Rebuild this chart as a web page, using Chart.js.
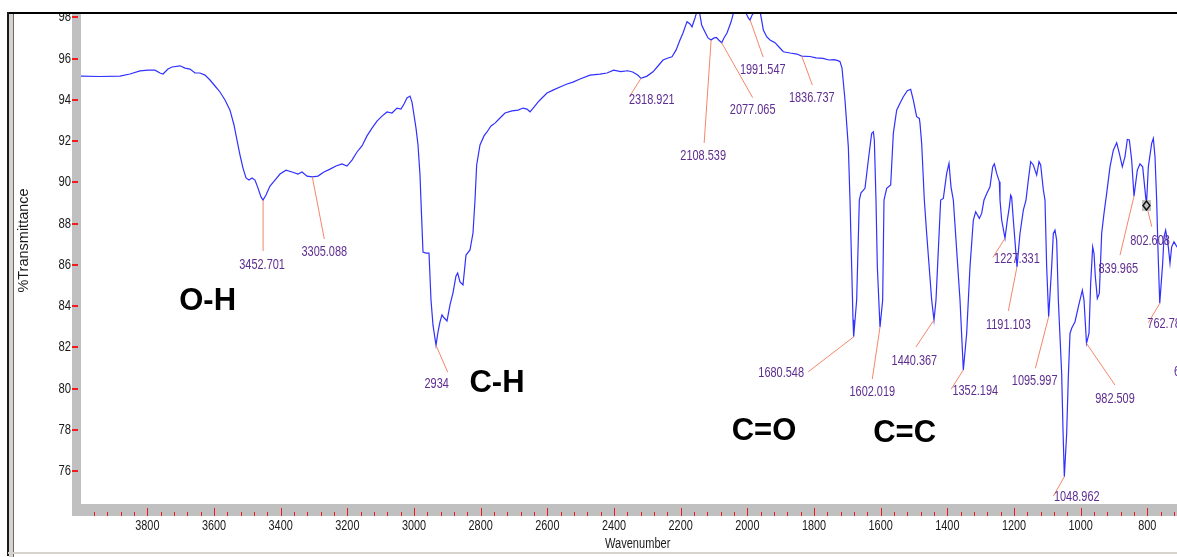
<!DOCTYPE html>
<html>
<head>
<meta charset="utf-8">
<script src="https://cdn.jsdelivr.net/npm/chart.js@4.4.1/dist/chart.umd.min.js"></script>
<style>
  html, body { margin: 0; padding: 0; background: #fff; }
  #wrap { position: relative; width: 1177px; height: 557px; }
</style>
</head>
<body>
<div id="wrap"><canvas id="irChart"></canvas></div>
<script>
// IR spectrum
const wavenumbers = [
  3999, 3942, 3882, 3852, 3822, 3798, 3777, 3762, 3753, 3738,
  3726, 3702, 3687, 3672, 3657, 3642, 3627, 3612, 3597, 3582,
  3567, 3552, 3540, 3531, 3522, 3513, 3504, 3495, 3486, 3477,
  3468, 3459, 3453, 3444, 3432, 3417, 3402, 3384, 3366, 3348,
  3336, 3321, 3305, 3288, 3270, 3252, 3234, 3216, 3201, 3186,
  3171, 3156, 3141, 3126, 3111, 3096, 3081, 3066, 3051, 3039,
  3030, 3021, 3012, 3006, 3000, 2994, 2988, 2982, 2978, 2973,
  2964, 2955, 2949, 2943, 2934, 2928, 2922, 2916, 2910, 2901,
  2892, 2883, 2874, 2869, 2862, 2853, 2844, 2832, 2823, 2817,
  2812, 2802, 2790, 2781, 2769, 2757, 2742, 2727, 2706, 2688,
  2673, 2661, 2652, 2640, 2628, 2616, 2601, 2583, 2562, 2541,
  2523, 2502, 2472, 2442, 2421, 2401, 2380, 2359, 2344, 2329,
  2319, 2301, 2283, 2268, 2253, 2238, 2226, 2214, 2202, 2193,
  2181, 2172, 2166, 2157, 2151, 2145, 2137, 2127, 2118, 2109,
  2101, 2093, 2086, 2077, 2070, 2061, 2049, 2040, 2028, 2013,
  2004, 1997, 1992, 1986, 1977, 1962, 1956, 1952, 1942, 1932,
  1917, 1905, 1892, 1872, 1851, 1837, 1812, 1794, 1773, 1755,
  1740, 1728, 1722, 1716, 1707, 1697, 1692, 1687, 1683, 1681,
  1672, 1664, 1659, 1647, 1637, 1627, 1622, 1619, 1614, 1610,
  1602, 1594, 1590, 1582, 1570, 1562, 1552, 1542, 1532, 1520,
  1510, 1502, 1492, 1484, 1482, 1477, 1469, 1462, 1447, 1440,
  1434, 1427, 1420, 1412, 1402, 1395, 1389, 1382, 1372, 1362,
  1352, 1342, 1332, 1322, 1315, 1304, 1297, 1290, 1281, 1272,
  1264, 1259, 1252, 1244, 1242, 1237, 1227, 1220, 1214, 1210,
  1207, 1202, 1191, 1182, 1172, 1164, 1157, 1150, 1142, 1132,
  1125, 1120, 1112, 1107, 1102, 1096, 1087, 1082, 1077, 1072,
  1067, 1057, 1053, 1049, 1042, 1037, 1032, 1027, 1017, 1007,
  995, 990, 982.5, 975, 970, 964, 960, 956, 950, 944,
  937, 930, 922, 912, 902, 892, 884, 875, 867, 860,
  854, 847, 840, 830, 822, 814, 807, 802.6, 797, 787,
  782, 777, 772, 768, 762.8, 754, 750, 745, 737, 732,
  727, 720, 711, 702
];
const transmittance = [
  95.15, 95.13, 95.15, 95.25, 95.40, 95.44, 95.44, 95.30, 95.25, 95.49,
  95.59, 95.65, 95.54, 95.49, 95.30, 95.30, 95.20, 94.96, 94.67, 94.38,
  93.99, 93.50, 92.78, 92.05, 91.32, 90.69, 90.21, 90.11, 90.21, 90.11,
  89.72, 89.29, 89.14, 89.38, 89.82, 90.11, 90.40, 90.59, 90.50, 90.40,
  90.50, 90.30, 90.26, 90.30, 90.50, 90.64, 90.79, 90.89, 90.79, 91.08,
  91.47, 91.76, 92.25, 92.63, 92.97, 93.21, 93.41, 93.36, 93.60, 93.55,
  93.80, 94.09, 94.18, 93.89, 93.26, 92.63, 91.81, 90.35, 88.65, 86.62,
  86.57, 86.57, 84.29, 83.07, 82.10, 82.74, 83.23, 83.57, 83.43, 83.28,
  84.06, 84.64, 85.46, 85.60, 85.17, 85.02, 86.47, 86.72, 87.54, 89.14,
  90.84, 91.81, 92.25, 92.44, 92.73, 92.87, 93.12, 93.36, 93.46, 93.50,
  93.60, 93.55, 93.42, 93.65, 93.89, 94.09, 94.33, 94.47, 94.62, 94.77,
  94.86, 95.01, 95.20, 95.25, 95.30, 95.44, 95.37, 95.41, 95.35, 95.20,
  95.04, 95.15, 95.36, 95.64, 95.93, 96.03, 96.09, 96.41, 96.90, 97.24,
  97.79, 97.68, 97.54, 97.97, 98.30, 98.40, 97.63, 97.29, 97.00, 96.90,
  96.99, 97.03, 96.90, 96.77, 97.00, 97.24, 97.77, 98.30, 98.40, 98.35,
  98.20, 97.97, 97.87, 98.10, 98.30, 98.30, 97.77, 97.38, 97.06, 96.90,
  96.77, 96.56, 96.33, 96.27, 96.22, 96.12, 96.10, 96.03, 96.01, 95.93,
  95.95, 95.90, 95.85, 95.54, 93.99, 91.72, 89.14, 85.90, 83.33, 82.51,
  84.29, 89.14, 89.49, 89.71, 91.08, 92.37, 92.45, 92.05, 89.14, 85.90,
  82.98, 84.29, 89.14, 89.71, 89.87, 92.37, 93.50, 93.83, 94.15, 94.44,
  94.51, 93.99, 93.18, 93.10, 92.86, 91.89, 89.14, 87.52, 84.29, 83.32,
  84.29, 86.71, 89.14, 89.22, 90.43, 90.92, 89.78, 89.14, 86.71, 84.29,
  80.90, 82.67, 85.90, 88.17, 88.57, 88.25, 88.49, 89.14, 89.48, 89.78,
  90.75, 90.89, 90.43, 90.03, 89.14, 88.17, 87.28, 88.17, 88.81, 89.38,
  89.28, 88.17, 85.90, 87.52, 88.65, 89.14, 90.11, 91.00, 90.84, 90.35,
  91.00, 90.84, 89.63, 89.14, 85.90, 83.48, 85.90, 87.52, 87.68, 87.20,
  84.29, 80.74, 78.00, 75.72, 77.82, 80.57, 82.67, 82.92, 83.24, 83.96,
  84.77, 84.29, 82.19, 82.67, 85.10, 86.87, 86.55, 85.42, 84.37, 84.61,
  87.52, 88.49, 89.46, 90.75, 91.56, 91.92, 91.40, 90.75, 91.24, 92.08,
  92.05, 91.08, 89.33, 90.59, 90.89, 90.75, 89.62, 88.90, 90.75, 91.89,
  92.13, 91.24, 89.14, 86.71, 84.13, 86.07, 87.36, 87.68, 86.87, 86.07,
  86.87, 87.12, 86.87, 86.70
];

const yTickValues = [76, 78, 80, 82, 84, 86, 88, 90, 92, 94, 96, 98];
const xTickValues = [3800, 3600, 3400, 3200, 3000, 2800, 2600, 2400, 2200, 2000, 1800, 1600, 1400, 1200, 1000, 800];

// picked peaks
const peakLabels = ['3452.701', '3305.088', '2934', '2318.921', '2108.539', '2077.065', '1991.547',
  '1836.737', '1680.548', '1602.019', '1440.367', '1352.194', '1227.331', '1191.103',
  '1095.997', '1048.962', '982.509', '839.965', '802.608', '762.78'];
const peakValues = [89.14, 90.26, 82.10, 95.04, 96.90, 96.77, 97.87,
  96.12, 82.51, 82.98, 83.32, 80.90, 87.28, 85.90,
  83.48, 75.72, 82.19, 89.33, 88.90, 84.13];

// band assignments
const groupLabels = ['O-H', 'C-H', 'C=O', 'C=C'];
const groupWavenumbers = [3619, 2751, 1950, 1528];
const groupValues = [84.2, 80.25, 77.9, 77.84];

// where each peak label sits relative to its peak (px): line end dx,dy, text dx,dy, align
const peakLayout = [
  [0, 51, -1, 65, 'center'],
  [12, 62, 12, 75, 'center'],
  [11.7, 27, 0.7, 39, 'center'],
  [-11.7, 18.4, 10.7, 21, 'center'],
  [-7, 103, -8, 116, 'center'],
  [31, 55, 31, 67, 'center'],
  [13, 37, 12.6, 50, 'center'],
  [10.6, 29, 10, 42, 'center'],
  [-45.5, 35, -49.8, 36.6, 'right'],
  [-7.7, 52, -7.7, 65, 'center'],
  [-18, 27, -19.5, 41, 'center'],
  [-12, 19, 12, 21, 'center'],
  [-12, 19, 12, 20, 'center'],
  [-8.6, 44, -8.6, 57.6, 'center'],
  [-13.3, 51.6, -14, 64, 'center'],
  [-11, 19.3, 12.4, 20.3, 'center'],
  [28.5, 41.7, 28.5, 56, 'center'],
  [-14, 59, -15.7, 73, 'center'],
  [5.3, 21.7, 3.6, 35.7, 'center'],
  [-11.4, 19.4, -12.4, 20.7, 'left']
];

const baseFont = "'Liberation Sans', Arial, sans-serif";

// the old spectrometer font is tall and narrow: squeeze it sideways
function narrowText(ctx, txt, x, y, align, size, squeeze, color) {
  ctx.save();
  ctx.translate(x, y);
  ctx.scale(squeeze, 1);
  ctx.font = size + 'px ' + baseFont;
  ctx.fillStyle = color;
  ctx.textAlign = align;
  ctx.textBaseline = 'middle';
  ctx.fillText(txt, 0, 0);
  ctx.restore();
}

const spectrumDecor = {
  id: 'spectrumDecor',
  afterDatasetsDraw(chart) {
    const ctx = chart.ctx;
    const x = chart.scales.x, y = chart.scales.y;
    ctx.save();

    peakLabels.forEach((lab, i) => {
      const px = x.getPixelForValue(parseFloat(lab));
      const py = y.getPixelForValue(peakValues[i]);
      const L = peakLayout[i];
      ctx.strokeStyle = '#f4866a';
      ctx.lineWidth = 1;
      ctx.beginPath();
      ctx.moveTo(px, py);
      ctx.lineTo(px + L[0], py + L[1]);
      ctx.stroke();
      narrowText(ctx, lab, px + L[2], py + L[3], L[4], 15, 0.73, '#5e2d90');
    });

    // cut-off label at right edge
    narrowText(ctx, '6', x.getPixelForValue(720), y.getPixelForValue(80.8), 'left', 15, 0.73, '#5e2d90');

    // cursor marker on 802.608
    const mi = peakLabels.indexOf('802.608');
    const mx = x.getPixelForValue(parseFloat(peakLabels[mi]));
    const my = y.getPixelForValue(peakValues[mi]);
    ctx.fillStyle = '#c0c0c0';
    ctx.fillRect(mx - 4.5, my - 5, 9, 11);
    ctx.strokeStyle = '#111';
    ctx.lineWidth = 1.4;
    ctx.beginPath();
    ctx.moveTo(mx, my - 4);
    ctx.lineTo(mx + 3.5, my + 0.5);
    ctx.lineTo(mx, my + 5);
    ctx.lineTo(mx - 3.5, my + 0.5);
    ctx.closePath();
    ctx.stroke();

    // functional group labels
    ctx.font = 'bold 31px ' + baseFont;
    ctx.fillStyle = '#000';
    ctx.textAlign = 'center';
    ctx.textBaseline = 'middle';
    groupLabels.forEach((g, i) => {
      ctx.fillText(g, x.getPixelForValue(groupWavenumbers[i]), y.getPixelForValue(groupValues[i]));
    });
    ctx.restore();
  },
  afterDraw(chart) {
    const ctx = chart.ctx;
    const area = chart.chartArea;
    const x = chart.scales.x, y = chart.scales.y;
    const W = chart.width, H = chart.height;
    ctx.save();

    // tick labels from the scales
    x.ticks.forEach(t => {
      narrowText(ctx, String(t.value), x.getPixelForValue(t.value), area.bottom + 22, 'center', 14.5, 0.75, '#1a1a1a');
    });
    y.ticks.forEach(t => {
      narrowText(ctx, String(t.value), area.left - 10, y.getPixelForValue(t.value), 'right', 14.5, 0.78, '#1a1a1a');
    });

    // hide what sits above the frame line
    ctx.fillStyle = '#fff';
    ctx.fillRect(0, 0, W, area.top - 1);

    // gray axis bands
    ctx.fillStyle = '#c0c0c0';
    ctx.fillRect(area.left - 9, area.top, 9, area.bottom - area.top + 12);
    ctx.fillRect(area.left - 9, area.bottom, W - area.left + 9, 12);

    // y tick marks
    ctx.fillStyle = '#ee1c1c';
    y.ticks.forEach(t => {
      const py = Math.round(y.getPixelForValue(t.value));
      ctx.fillRect(area.left - 9, py - 1, 6, 2);
    });

    // x tick marks, major every 200, minor every 40
    ctx.strokeStyle = '#ee1c1c';
    ctx.lineWidth = 1;
    for (let v = 3960; v > x.min; v -= 40) {
      const px = Math.round(x.getPixelForValue(v)) + 0.5;
      const major = v % 200 === 0;
      ctx.beginPath();
      ctx.moveTo(px, area.bottom + (major ? 4 : 8));
      ctx.lineTo(px, area.bottom + 12);
      ctx.stroke();
    }

    // window frame
    ctx.fillStyle = '#000';
    ctx.fillRect(8, area.top - 1, W - 8, 2);
    ctx.fillStyle = '#1a1a1a';
    ctx.fillRect(7, area.top - 1, 2, H - area.top);
    ctx.fillStyle = '#d6d3cc';
    ctx.fillRect(9, area.top + 1, 4, H - area.top);
    ctx.fillStyle = '#6a6a6a';
    ctx.fillRect(13, area.top + 1, 1, H - area.top);
    ctx.fillStyle = '#d6d3cc';
    ctx.fillRect(8, 552, W - 8, 2);

    // axis titles
    ctx.fillStyle = '#1a1a1a';
    ctx.textBaseline = 'middle';
    ctx.font = '14.5px ' + baseFont;
    ctx.translate(23.5, 240.5);
    ctx.rotate(-Math.PI / 2);
    ctx.textAlign = 'center';
    ctx.fillText('%Transmittance', 0, 0);
    ctx.setTransform(1, 0, 0, 1, 0, 0);
    narrowText(ctx, 'Wavenumber', 605, 544, 'left', 14, 0.79, '#1a1a1a');
    ctx.restore();
  }
};

new Chart(document.getElementById('irChart'), {
  type: 'line',
  data: {
    datasets: [{
      label: 'Spectrum',
      data: wavenumbers.map((w, i) => ({ x: w, y: transmittance[i] })),
      borderColor: '#3030ff',
      borderWidth: 1.2,
      pointRadius: 0,
      tension: 0,
      fill: false
    }]
  },
  options: {
    responsive: true,
    maintainAspectRatio: false,
    animation: false,
    devicePixelRatio: 1,
    layout: { padding: { top: 13, left: 0, right: 0, bottom: 0 } },
    plugins: { legend: { display: false }, tooltip: { enabled: false } },
    scales: {
      x: {
        type: 'linear',
        reverse: true,
        min: 711,
        max: 3999,
        afterFit: s => { s.height = 53; s.paddingLeft = 0; s.paddingRight = 0; },
        afterBuildTicks: s => { s.ticks = xTickValues.map(v => ({ value: v })); },
        grid: { display: false, drawTicks: false },
        border: { display: false },
        ticks: { display: false }
      },
      y: {
        min: 74.4,
        max: 98.21,
        afterFit: s => { s.width = 81; s.paddingTop = 0; s.paddingBottom = 0; },
        afterBuildTicks: s => { s.ticks = yTickValues.map(v => ({ value: v })); },
        grid: { display: false, drawTicks: false },
        border: { display: false },
        ticks: { display: false }
      }
    }
  },
  plugins: [spectrumDecor]
});
</script>
</body>
</html>
